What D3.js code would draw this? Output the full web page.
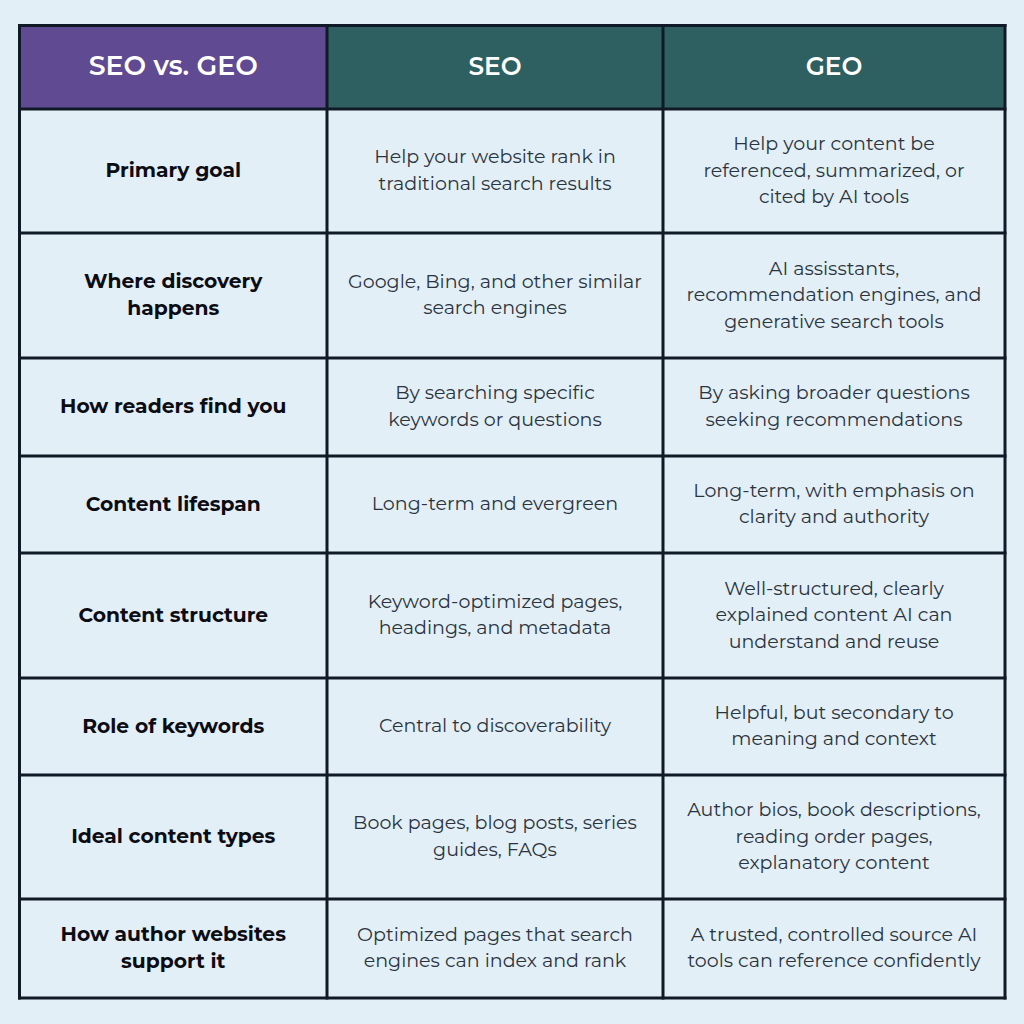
<!DOCTYPE html>
<html><head><meta charset="utf-8">
<script src="https://cdn.jsdelivr.net/npm/d3@7"></script>
<style>html,body{margin:0;padding:0;background:#e3eff7}svg{display:block}</style></head>
<body><svg id="c" width="1024" height="1024"></svg>
<script>
const headers = ["SEO vs. GEO","SEO","GEO"];
const rowLabels = [["Primary goal"],["Where discovery","happens"],["How readers find you"],["Content lifespan"],["Content structure"],["Role of keywords"],["Ideal content types"],["How author websites","support it"]];
const seoCells = [["Help your website rank in","traditional search results"],["Google, Bing, and other similar","search engines"],["By searching specific","keywords or questions"],["Long-term and evergreen"],["Keyword-optimized pages,","headings, and metadata"],["Central to discoverability"],["Book pages, blog posts, series","guides, FAQs"],["Optimized pages that search","engines can index and rank"]];
const geoCells = [["Help your content be","referenced, summarized, or","cited by AI tools"],["AI assisstants,","recommendation engines, and","generative search tools"],["By asking broader questions","seeking recommendations"],["Long-term, with emphasis on","clarity and authority"],["Well-structured, clearly","explained content AI can","understand and reuse"],["Helpful, but secondary to","meaning and context"],["Author bios, book descriptions,","reading order pages,","explanatory content"],["A trusted, controlled source AI","tools can reference confidently"]];
const colEdges = [19.5,327,663,1005];
const rowEdges = [25.5,109,233,358,456,553,678,775,899,998];
const svg = d3.select("#c");
const font = "Montserrat, Inter, 'Open Sans', sans-serif";
const ink = "#101a26";
svg.append("rect").attr("width",1024).attr("height",1024).attr("fill","#e3eff7");
const colX = i=>colEdges[i], rowY = i=>rowEdges[i];
svg.selectAll("rect.h").data(headers).join("rect").attr("class","h")
 .attr("x",(d,i)=>colX(i)).attr("y",rowY(0)).attr("width",(d,i)=>colX(i+1)-colX(i)).attr("height",rowY(1)-rowY(0))
 .attr("fill",(d,i)=>i===0?"#604a92":"#2f6061");
svg.selectAll("text.h").data(headers).join("text").attr("class","h")
 .attr("x",(d,i)=>(colX(i)+colX(i+1))/2).attr("y",(rowY(0)+rowY(1))/2+1).attr("text-anchor","middle").attr("dominant-baseline","middle")
 .attr("fill","#fff").attr("font-family",font).attr("font-weight",600).attr("font-size",(d,i)=>i===0?26.8:24.8).text(d=>d);
function drawCol(cells,ci,weight,size,color,lh,off){
 cells.forEach((lines,r)=>{
  const cy=(rowY(r+1)+rowY(r+2))/2;
  svg.append("text").attr("text-anchor","middle").attr("font-family",font).attr("font-weight",weight).attr("font-size",size).attr("fill",color)
   .selectAll("tspan").data(lines).join("tspan").attr("x",(colX(ci)+colX(ci+1))/2)
   .attr("y",(d,i)=>cy+(i-(lines.length-1)/2)*lh+off).text(d=>d);
 });
}
drawCol(rowLabels,0,700,20.25,"#0c0c12",27.5,6.1);
drawCol(seoCells,1,400,19.05,"#2b343e",26.5,5.7);
drawCol(geoCells,2,400,19.05,"#2b343e",26.5,5.7);
svg.selectAll("line.v").data(colEdges).join("line").attr("class","v").attr("x1",d=>d).attr("x2",d=>d).attr("y1",rowEdges[0]-1.5).attr("y2",rowEdges[rowEdges.length-1]+1.5).attr("stroke",ink).attr("stroke-width",3);
svg.selectAll("line.r").data(rowEdges).join("line").attr("class","r").attr("y1",d=>d).attr("y2",d=>d).attr("x1",colEdges[0]-1.5).attr("x2",colEdges[3]+1.5).attr("stroke",ink).attr("stroke-width",3);
</script></body></html>
